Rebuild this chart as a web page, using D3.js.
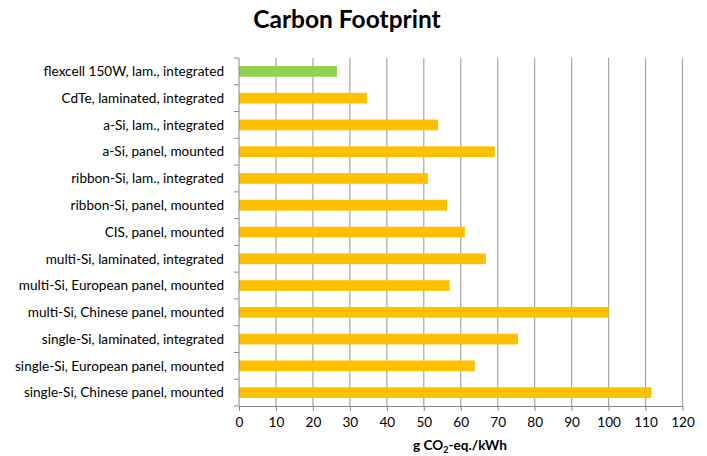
<!DOCTYPE html>
<html><head><meta charset="utf-8">
<script src="https://cdn.jsdelivr.net/npm/d3@7"></script>
<style>body{margin:0;background:#fff;}svg{font-family:Lato,"Open Sans",sans-serif;}</style>
</head><body><svg id="c" width="707" height="456"></svg>
<script>
const categories = ["flexcell 150W, lam., integrated","CdTe, laminated, integrated","a-Si, lam., integrated","a-Si, panel, mounted","ribbon-Si, lam., integrated","ribbon-Si, panel, mounted","CIS, panel, mounted","multi-Si, laminated, integrated","multi-Si, European panel, mounted","multi-Si, Chinese panel, mounted","single-Si, laminated, integrated","single-Si, European panel, mounted","single-Si, Chinese panel, mounted"];
const values = [26.5,34.6,53.9,69.2,51.1,56.3,61.1,66.8,57.0,100,75.5,63.8,111.6];
const highlight = ["flexcell 150W, lam., integrated"];
const xTicks = [0,10,20,30,40,50,60,70,80,90,100,110,120];

const svg = d3.select("#c");
const L=239, R=682.5, T=58, B=406;
const x = d3.scaleLinear().domain([0,120]).range([L,R]);
const y = d3.scaleBand().domain(categories).range([T,B]).paddingInner(0.6).paddingOuter(0.3);

// gridlines
svg.append("g").selectAll("line").data(xTicks.slice(1)).join("line")
  .attr("x1",d=>x(d)).attr("x2",d=>x(d)).attr("y1",T).attr("y2",B)
  .attr("stroke","#a6a6a6").attr("stroke-width",1.2);

// bars
svg.append("g").selectAll("rect").data(categories).join("rect")
  .attr("x",x(0)).attr("y",d=>y(d)).attr("height",y.bandwidth())
  .attr("width",(d,i)=>x(values[i])-x(0))
  .attr("fill",d=>highlight.includes(d)?"#92D050":"#FFC000");

// x axis
const xa = svg.append("g").attr("transform",`translate(0,${B})`)
  .call(d3.axisBottom(x).tickValues(xTicks).tickSize(5).tickSizeOuter(0).tickPadding(6));
xa.select(".domain").attr("stroke","#888");
xa.selectAll(".tick line").attr("stroke","#888");
xa.selectAll("text").attr("font-size",13.6).attr("fill","#000").attr("font-family","Lato,sans-serif");

// y axis
const step = (B-T)/categories.length;
const ya = svg.append("g").attr("transform",`translate(${L},0)`);
ya.append("line").attr("x1",0).attr("x2",0).attr("y1",T).attr("y2",B).attr("stroke","#888");
ya.selectAll(".tk").data(d3.range(categories.length+1)).join("line").attr("class","tk")
  .attr("x1",-5).attr("x2",0).attr("y1",i=>T+i*step).attr("y2",i=>T+i*step).attr("stroke","#888");
ya.selectAll("text").data(categories).join("text")
  .attr("x",-15).attr("y",d=>y(d)+y.bandwidth()/2).attr("dy","0.35em")
  .attr("text-anchor","end").attr("font-size",13.6).attr("fill","#000").text(d=>d);

// title
svg.append("text").attr("x",347).attr("y",28).attr("text-anchor","middle")
  .attr("font-size",24.5).attr("font-weight","bold").text("Carbon Footprint");

// axis title
const at = svg.append("text").attr("x",460).attr("y",450).attr("text-anchor","middle")
  .attr("font-size",13.6).attr("font-weight","bold");
at.append("tspan").text("g CO");
at.append("tspan").attr("font-size",9).attr("dy",3).text("2");
at.append("tspan").attr("dy",-3).text("-eq./kWh");
</script></body></html>
